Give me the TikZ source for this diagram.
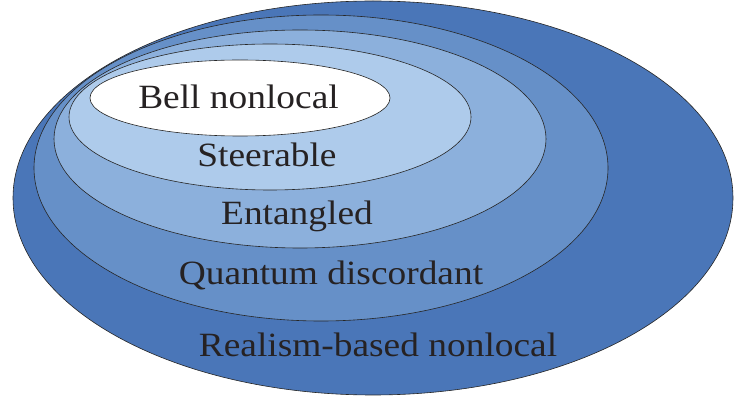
\documentclass[tikz,border=0pt]{standalone}
\usepackage{fontspec}
\setmainfont{Liberation Serif}
\definecolor{c1}{RGB}{74,118,184}
\definecolor{c2}{RGB}{102,144,200}
\definecolor{c3}{RGB}{140,176,220}
\definecolor{c4}{RGB}{174,203,235}
\definecolor{txt}{RGB}{38,34,35}
\begin{document}
\begin{tikzpicture}[x=1pt,y=-1pt,
  ring/.style={draw=black!85,line width=0.6pt},
  lab/.style={anchor=base,text=txt,inner sep=0pt,font=\fontsize{34}{40}\selectfont}]
\useasboundingbox (0,0) rectangle (734,403);
\filldraw[ring,fill=c1] (373,198) ellipse [x radius=360,y radius=197];
\filldraw[ring,fill=c2] (321,168) ellipse [x radius=287,y radius=153];
\filldraw[ring,fill=c3] (300,139) ellipse [x radius=246,y radius=109];
\filldraw[ring,fill=c4] (270,117) ellipse [x radius=201,y radius=73];
\filldraw[ring,fill=white] (240,98) ellipse [x radius=150,y radius=38];
\node[lab] (bell) at (238.5,109) {\scalebox{1.1}[1]{Bell nonlocal}};
\node[lab] (steer) at (267,167) {\scalebox{1.1}[1]{Steerable}};
\node[lab] (ent) at (297,225) {\scalebox{1.1}[1]{Entangled}};
\node[lab] (qd) at (331,285) {\scalebox{1.1}[1]{Quantum discordant}};
\node[lab] (rb) at (378,357) {\scalebox{1.1}[1]{Realism-based nonlocal}};
\end{tikzpicture}
\end{document}
